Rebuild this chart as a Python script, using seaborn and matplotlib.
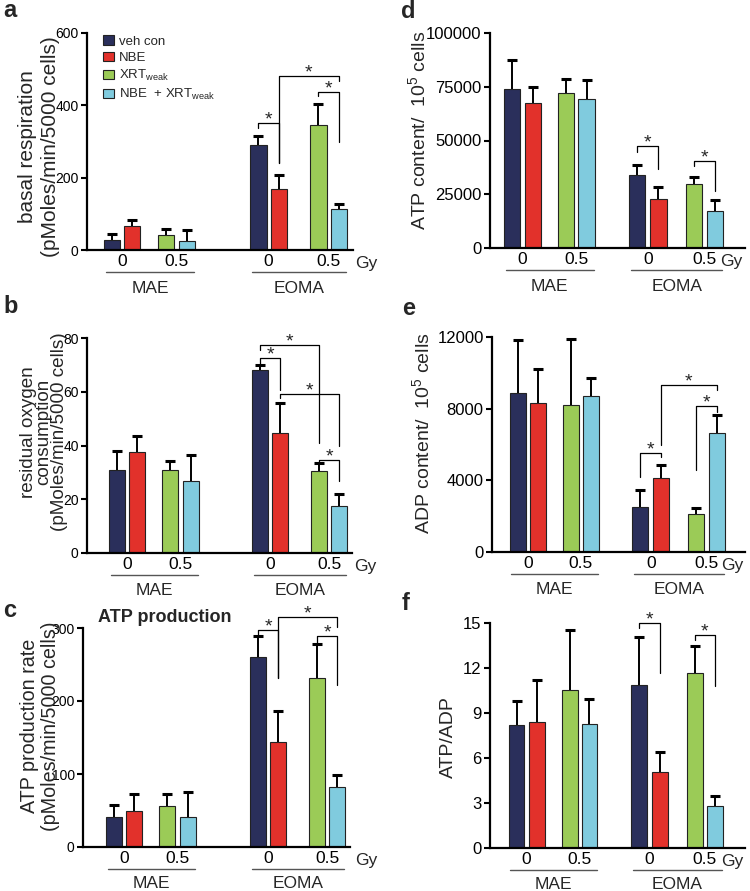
import numpy as np
import pandas as pd
import matplotlib
matplotlib.use("Agg")
import matplotlib.pyplot as plt
import seaborn as sns
from matplotlib.transforms import ScaledTranslation

# ---------------- data ----------------
treatments = ["veh con", "NBE", r"XRT$_{\mathrm{weak}}$", r"NBE  + XRT$_{\mathrm{weak}}$"]
cell_lines = ["MAE", "EOMA"]
doses = ["0", "0.5"]
palette = ["#2A2F5B", "#E2312B", "#9BCB57", "#80CBDE"]

# bar order: MAE (veh, NBE, XRT, NBE+XRT), EOMA (veh, NBE, XRT, NBE+XRT)
basal_mean = [28, 65, 42, 25, 290, 170, 347, 112]
basal_err = [16, 18, 16, 30, 25, 38, 56, 16]
residual_mean = [31, 37.6, 31, 26.8, 68.2, 44.7, 30.4, 17.4]
residual_err = [6.8, 6.1, 3.1, 9.8, 1.9, 11, 3.1, 4.7]
atpprod_mean = [41, 50, 56, 41, 260, 144, 231, 82.5]
atpprod_err = [16, 22, 17, 34, 28.6, 42, 47.6, 16]
atp_mean = [73950, 67440, 72090, 69300, 34100, 22950, 29920, 17360]
atp_err = [13340, 7440, 6670, 8680, 4660, 5270, 3100, 4970]
adp_mean = [8900, 8290, 8216, 8698, 2485, 4154, 2133, 6658]
adp_err = [2912, 1930, 3672, 1020, 965, 705, 334, 983]
ratio_mean = [8.2, 8.42, 10.54, 8.27, 10.88, 5.06, 11.7, 2.81]
ratio_err = [1.63, 2.78, 4.01, 1.69, 3.22, 1.36, 1.8, 0.64]

# significance brackets: (left bar, right bar, bracket level, left leg end, right leg end)
basal_sig = [(4, 5, 351, 337, 240), (5, 7, 480, 240, 466), (6, 7, 438, 425, 300)]
residual_sig = [(4, 5, 72.6, 70.5, 60.8), (4, 6, 77.5, 75.7, 40.9),
                (5, 7, 59.3, 57.7, 39.7), (6, 7, 34.7, 33.5, 26.7)]
atpprod_sig = [(4, 5, 297.8, 291, 231), (5, 7, 315, 231, 302), (6, 7, 289.5, 279, 222)]
atp_sig = [(4, 5, 47290, 44500, 36740), (6, 7, 40310, 37980, 26360)]
adp_sig = [(4, 5, 5545, 4210, 5286), (5, 7, 9310, 5972, 9032), (6, 7, 8142, 4581, 7826)]
ratio_sig = [(4, 5, 15.0, 14.66, 11.7), (6, 7, 14.2, 13.9, 10.8)]

# ---------------- style ----------------
sns.set_style("ticks")
plt.rcParams["font.family"] = ["Liberation Sans", "DejaVu Sans"]
plt.rcParams["mathtext.fontset"] = "custom"
plt.rcParams["mathtext.rm"] = "Liberation Sans"
plt.rcParams["mathtext.it"] = "Liberation Sans:italic"

W, H = 750, 891
fig = plt.figure(figsize=(W / 100, H / 100), dpi=100)

pos_left = [0, 1, 2.65, 3.7, 7.2, 8.2, 10.15, 11.15]
pos_right = [0, 1, 2.62, 3.6, 6.05, 7.07, 8.8, 9.8]

panels = [
    dict(letter="a", lxy=(3, 17), box=(87, 353, 33, 250), xlim=(-1.23, 11.85), pos=pos_left,
         mean=basal_mean, err=basal_err, ymax=600, yticks=[0, 200, 400, 600],
         ylabel="basal respiration\n(pMoles/min/5000 cells)", ylxy=(39, 147), ylfs=15, ylls=1.28,
         sig=basal_sig, gyx=1.05, legend=True, tfs=10, grp=-28),
    dict(letter="b", lxy=(3, 313), box=(87, 352, 338, 553), xlim=(-1.5, 11.8), pos=pos_left,
         mean=residual_mean, err=residual_err, ymax=80, yticks=[0, 20, 40, 60, 80],
         ylabel="residual oxygen\nconsumption\n(pMoles/min/5000 cells)", ylxy=(44, 432), ylfs=13.6,
         ylls=0.9, sig=residual_sig, gyx=1.05, legend=False, tfs=10, grp=-27),
    dict(letter="c", lxy=(3, 617), box=(83, 350, 628, 847), xlim=(-1.55, 11.8), pos=pos_left,
         mean=atpprod_mean, err=atpprod_err, ymax=300, yticks=[0, 100, 200, 300],
         ylabel="ATP production rate\n(pMoles/min/5000 cells)", ylxy=(40, 726), ylfs=14.2, ylls=1.12,
         sig=atpprod_sig, gyx=1.06, legend=False, tfs=10, grp=-26),
    dict(letter="d", lxy=(401, 18), box=(490, 745, 33, 248), xlim=(-1.06, 11.25), pos=pos_right,
         mean=atp_mean, err=atp_err, ymax=100000, yticks=[0, 25000, 50000, 75000, 100000],
         ylabel="ATP content/  10$^5$ cells", ylxy=(418, 130), ylfs=14, ylls=1.2,
         sig=atp_sig, gyx=0.945, legend=False, tfs=12, grp=-27.5),
    dict(letter="e", lxy=(402, 315), box=(492, 745, 337, 552), xlim=(-1.26, 11.2), pos=pos_right,
         mean=adp_mean, err=adp_err, ymax=12000, yticks=[0, 4000, 8000, 12000],
         ylabel="ADP content/  10$^5$ cells", ylxy=(422, 433), ylfs=14, ylls=1.2,
         sig=adp_sig, gyx=0.95, legend=False, tfs=12, grp=-27),
    dict(letter="f", lxy=(402, 610), box=(490, 745, 623, 848), xlim=(-1.31, 11.28), pos=pos_right,
         mean=ratio_mean, err=ratio_err, ymax=15, yticks=[0, 3, 6, 9, 12, 15],
         ylabel="ATP/ADP", ylxy=(448, 737), ylfs=14, ylls=1.2,
         sig=ratio_sig, gyx=0.95, legend=False, tfs=12, grp=-26),
]

for p in panels:
    l, r, t, b = p["box"]
    ax = fig.add_axes([l / W, 1 - b / H, (r - l) / W, (b - t) / H])
    df = pd.DataFrame({
        "pos": p["pos"],
        "value": p["mean"],
        "err": p["err"],
        "treatment": treatments * 2,
        "cell": [c for c in cell_lines for _ in range(4)],
    })
    sns.barplot(data=df, x="pos", y="value", hue="treatment", hue_order=treatments,
                palette=palette, native_scale=True, orient="x", dodge=False, width=0.8,
                errorbar=None, edgecolor="#222222", linewidth=0.8, ax=ax, legend=p["legend"],
                saturation=1)
    # one-sided error bars
    ax.vlines(df["pos"], df["value"], df["value"] + df["err"], color="black", lw=1.4, zorder=4)
    ax.plot(df["pos"], df["value"] + df["err"], ls="none", marker="_", ms=7, mew=2.2,
            color="black", zorder=4)

    ax.set_xlim(*p["xlim"])
    ax.set_ylim(0, p["ymax"])
    ax.set_yticks(p["yticks"])
    ax.set_yticklabels([str(v) for v in p["yticks"]])
    pairs = [(df["pos"][i] + df["pos"][i + 1]) / 2 for i in (0, 2, 4, 6)]
    ax.set_xticks(pairs)
    ax.set_xticklabels(doses * 2)
    ax.set_xlabel("")
    ax.set_ylabel("")
    sns.despine(ax=ax)
    for s in ("left", "bottom"):
        ax.spines[s].set_linewidth(1.6)
        ax.spines[s].set_color("black")
    ax.tick_params(axis="y", direction="out", length=4.5, width=1.5, labelsize=p["tfs"], pad=1.5,
                   colors="black")
    ax.tick_params(axis="x", length=0, pad=3, labelsize=12.5, colors="black")

    # Gy
    ax.annotate("Gy", xy=(p["gyx"], 0), xycoords="axes fraction", xytext=(0, -9.5),
                textcoords="offset points", ha="center", va="center", fontsize=12.5)
    # group underline + labels
    line_tr = ax.get_xaxis_transform() + ScaledTranslation(0, -0.22, fig.dpi_scale_trans)
    for k, cell in enumerate(cell_lines):
        x0 = df["pos"][4 * k] - 0.3
        x1 = df["pos"][4 * k + 3] + 0.35
        ax.plot([x0, x1], [0, 0], color="#555555", lw=1.0, transform=line_tr, clip_on=False)
        ax.annotate(cell, xy=((x0 + x1) / 2, 0), xycoords=("data", "axes fraction"),
                    xytext=(0, p["grp"]), textcoords="offset points", ha="center", va="center",
                    fontsize=12.5)

    # significance brackets
    for (i, j, yb, yl, yr) in p["sig"]:
        xi, xj = df["pos"][i], df["pos"][j]
        ax.plot([xi, xi, xj, xj], [yl, yb, yb, yr], color="black", lw=0.9, clip_on=False,
                zorder=5)
        ax.annotate("*", xy=((xi + xj) / 2, yb), xytext=(0, -1), textcoords="offset points",
                    ha="center", va="baseline", fontsize=14, annotation_clip=False)

    # y label
    fig.text(p["ylxy"][0] / W, 1 - p["ylxy"][1] / H, p["ylabel"], rotation=90, ha="center",
             va="center", rotation_mode="anchor", multialignment="center",
             fontsize=p["ylfs"], linespacing=p["ylls"])
    # panel letter
    fig.text(p["lxy"][0] / W, 1 - p["lxy"][1] / H, p["letter"], fontsize=17, fontweight="bold",
             ha="left", va="baseline")

    if p["legend"]:
        h, lab = ax.get_legend_handles_labels()
        ax.legend(h, lab, loc="upper left", bbox_to_anchor=(0.06, 0.99), frameon=False,
                  fontsize=9.5, handlelength=0.85, handleheight=0.75, handletextpad=0.35,
                  labelspacing=0.3, borderpad=0, borderaxespad=0)

fig.text(98 / W, 1 - 622 / H, "ATP production", fontsize=13, fontweight="bold",
         ha="left", va="baseline")

fig.savefig("out.png", dpi=100)
